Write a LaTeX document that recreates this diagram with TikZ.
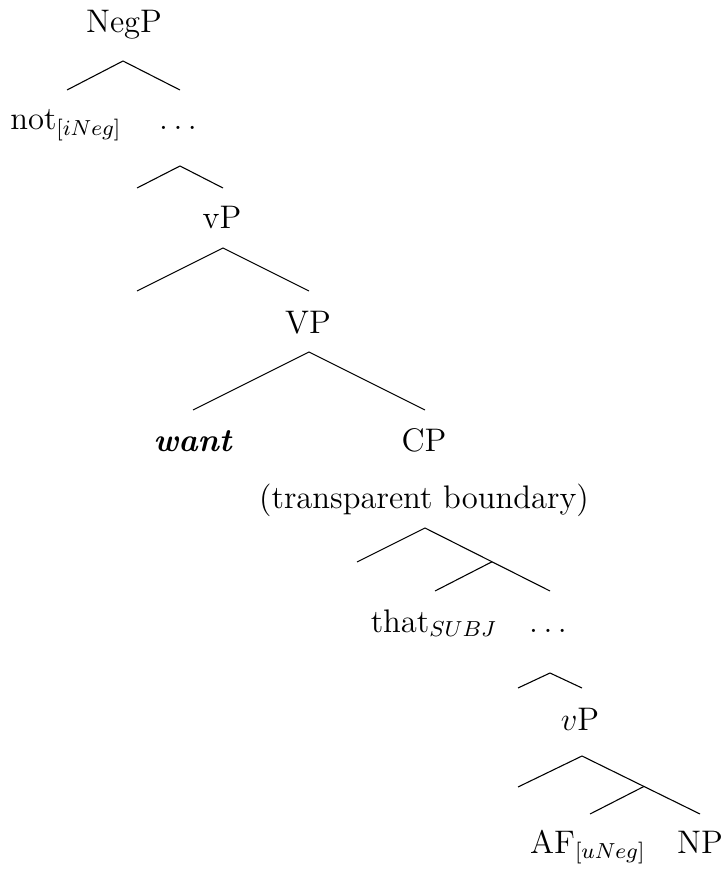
\documentclass[tikz,border=0pt,12pt]{standalone}
\usetikzlibrary{calc}
\begin{document}
\begin{tikzpicture}[x={(0.3676pt,0)}, y={(0,-0.3676pt)},
  lab/.style={anchor=base, inner sep=0pt},
  edge/.style={line width=0.4pt}]
\useasboundingbox (0,0) rectangle (725,869);
% labels
\node[lab] (negp) at (124,33) {NegP};
\node[lab] (not) at (66,130) {not$_{[iNeg]}$};
\node[lab] (dots1) at (178,130) {$\ldots$};
\node[lab] (vp1) at (222,228) {vP};
\node[lab] (VP) at (308,333) {VP};
\node[lab] (want) at (193,451) {\textbf{\textit{want}}};
\node[lab] (cp) at (424,451) {CP};
\node[lab] (tb) at (424,508) {(transparent boundary)};
\node[lab] (that) at (434,632) {that$_{SUBJ}$};
\node[lab] (dots2) at (548,632) {$\ldots$};
\node[lab] (vp2) at (580,730) {$v$P};
\node[lab] (af) at (588,853) {AF$_{[uNeg]}$};
\node[lab] (np) at (700,853) {NP};
% branch coordinates
\coordinate (a1) at (123,61); \coordinate (l1) at (67,90); \coordinate (r1) at (180,90);
\coordinate (a2) at (180,166); \coordinate (l2) at (137,188); \coordinate (r2) at (223,188);
\coordinate (a3) at (223,248); \coordinate (l3) at (137,291); \coordinate (r3) at (309,291);
\coordinate (a4) at (309,352); \coordinate (l4) at (193,410); \coordinate (r4) at (425,410);
\coordinate (a5) at (425,528); \coordinate (l5) at (357,562); \coordinate (r5) at (550,591);
\coordinate (m5) at ($(a5)!0.536!(r5)$); \coordinate (i5) at (435,591);
\coordinate (a6) at (550,673); \coordinate (l6) at (518,688); \coordinate (r6) at (582,688);
\coordinate (a7) at (582,756); \coordinate (l7) at (518,787); \coordinate (r7) at (700,814);
\coordinate (m7) at ($(a7)!0.525!(r7)$); \coordinate (i7) at (590,814);
% edges
\draw[edge] (l1) -- (a1) -- (r1);
\draw[edge] (l2) -- (a2) -- (r2);
\draw[edge] (l3) -- (a3) -- (r3);
\draw[edge] (l4) -- (a4) -- (r4);
\draw[edge] (l5) -- (a5) -- (r5);
\draw[edge] (m5) -- (i5);
\draw[edge] (l6) -- (a6) -- (r6);
\draw[edge] (l7) -- (a7) -- (r7);
\draw[edge] (m7) -- (i7);
\end{tikzpicture}
\end{document}
